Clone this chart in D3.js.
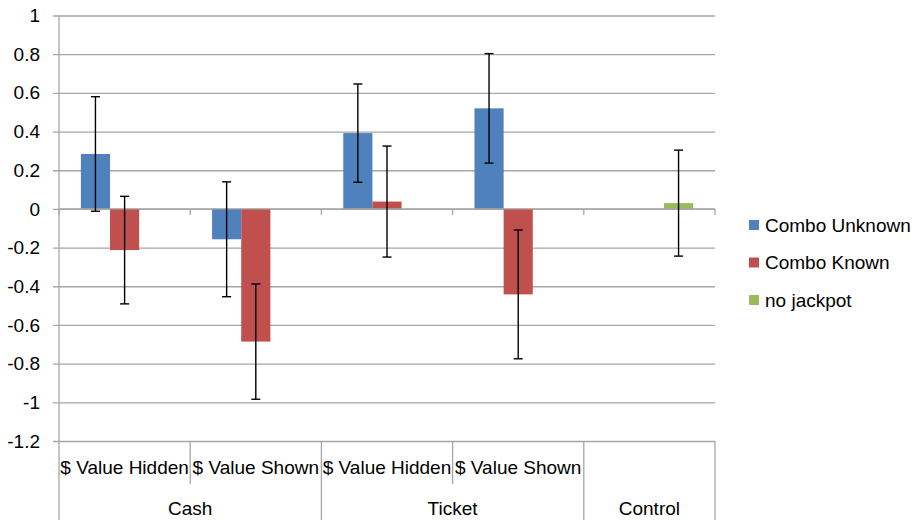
<!DOCTYPE html>
<html>
<head>
<meta charset="utf-8">
<script src="https://cdn.jsdelivr.net/npm/d3@7"></script>
<style>
  html, body { margin: 0; padding: 0; background: #ffffff; }
  svg { display: block; font-family: "Liberation Sans", Arial, sans-serif; }
</style>
</head>
<body>
<svg id="chart" width="921" height="520"></svg>
<script>
// ---- data ----
const leafLabels  = ["$ Value Hidden", "$ Value Shown", "$ Value Hidden", "$ Value Shown", ""];
const groupLabels = ["Cash", "Ticket", "Control"];
const groupSpans  = [2, 2, 1];
const seriesNames = ["Combo Unknown", "Combo Known", "no jackpot"];
const seriesColors = ["#4F81BD", "#C0504D", "#9BBB59"];
const comboUnknown    = [0.284, -0.157, 0.392, 0.520, null];
const comboUnknownErr = [0.296, 0.297, 0.254, 0.283, null];
const comboKnown      = [-0.213, -0.686, 0.038, -0.442, null];
const comboKnownErr   = [0.278, 0.298, 0.287, 0.333, null];
const noJackpot       = [null, null, null, null, 0.030];
const noJackpotErr    = [null, null, null, null, 0.274];
const yTicks = [1, 0.8, 0.6, 0.4, 0.2, 0, -0.2, -0.4, -0.6, -0.8, -1, -1.2];

const seriesValues = [comboUnknown, comboKnown, noJackpot];
const seriesErrors = [comboUnknownErr, comboKnownErr, noJackpotErr];

// ---- layout ----
(function () {
const svg = d3.select("#chart");
const pLeft = 59, pRight = 715, pTop = 15.5, pBottom = 441;
const gridColor = "#a6a6a6";
const fs = "19px";

const y = d3.scaleLinear().domain([-1.2, 1]).range([pBottom, pTop]);
const x = d3.scaleBand().domain(d3.range(leafLabels.length)).range([pLeft, pRight]).padding(0);
const bw = x.bandwidth();
const barW = bw / 4.5; // Excel gap width 150%
const xs = d3.scaleBand().domain(d3.range(seriesNames.length))
  .range([(bw - barW * 3) / 2, (bw + barW * 3) / 2]).padding(0);

// gridlines with left ticks
const yAxis = d3.axisLeft(y).tickValues(yTicks).tickSize(-(pRight - pLeft)).tickPadding(19)
  .tickFormat(d => String(d));
const gy = svg.append("g").attr("transform", `translate(${pLeft},0)`).call(yAxis);
gy.select(".domain").remove();
gy.selectAll(".tick line").attr("stroke", gridColor).attr("stroke-width", 1.3)
  .attr("x1", -6).attr("x2", pRight - pLeft);
gy.selectAll(".tick text").attr("fill", "#000").style("font-size", fs)
  .style("font-family", "'Liberation Sans', Arial, sans-serif");

// bars
seriesValues.forEach((vals, si) => {
  svg.append("g").selectAll("rect")
    .data(vals.map((v, i) => ({ v, i })).filter(d => d.v !== null))
    .join("rect")
    .attr("x", d => x(d.i) + xs(si))
    .attr("width", xs.bandwidth())
    .attr("y", d => y(Math.max(0, d.v)))
    .attr("height", d => Math.abs(y(d.v) - y(0)))
    .attr("fill", seriesColors[si]);
});

// zero axis line with ticks at category boundaries
svg.append("line").attr("x1", pLeft).attr("x2", pRight).attr("y1", y(0)).attr("y2", y(0))
  .attr("stroke", gridColor).attr("stroke-width", 1.3);
d3.range(leafLabels.length + 1).forEach(i => {
  const xx = pLeft + i * bw;
  svg.append("line").attr("x1", xx).attr("x2", xx).attr("y1", y(0)).attr("y2", y(0) + 6)
    .attr("stroke", gridColor).attr("stroke-width", 1.3);
});

// error bars
seriesValues.forEach((vals, si) => {
  const g = svg.append("g").attr("stroke", "#000").attr("stroke-width", 1.4);
  vals.forEach((v, i) => {
    if (v === null) return;
    const e = seriesErrors[si][i];
    const cx = x(i) + xs(si) + xs.bandwidth() / 2;
    g.append("line").attr("x1", cx).attr("x2", cx).attr("y1", y(v + e)).attr("y2", y(v - e));
    [v + e, v - e].forEach(t => {
      g.append("line").attr("x1", cx - 4.5).attr("x2", cx + 4.5).attr("y1", y(t)).attr("y2", y(t));
    });
  });
});

// vertical value axis line
svg.append("line").attr("x1", pLeft).attr("x2", pLeft).attr("y1", pTop).attr("y2", 520)
  .attr("stroke", gridColor).attr("stroke-width", 1.3);

// category axis (multi-level)
const cat = svg.append("g");
leafLabels.forEach((lab, i) => {
  cat.append("text").attr("x", x(i) + bw / 2).attr("y", 467).attr("dy", "0.35em")
    .attr("text-anchor", "middle").style("font-size", fs).text(lab);
});
let pos = 0;
groupLabels.forEach((g, gi) => {
  const x0 = x(pos), x1 = x(pos) + bw * groupSpans[gi];
  cat.append("text").attr("x", (x0 + x1) / 2).attr("y", 508).attr("dy", "0.35em")
    .attr("text-anchor", "middle").style("font-size", fs).text(g);
  for (let k = 1; k < groupSpans[gi]; k++) {
    const xx = x(pos + k);
    cat.append("line").attr("x1", xx).attr("x2", xx).attr("y1", pBottom).attr("y2", 484)
      .attr("stroke", gridColor).attr("stroke-width", 1.3);
  }
  cat.append("line").attr("x1", x1).attr("x2", x1).attr("y1", pBottom).attr("y2", 520)
    .attr("stroke", gridColor).attr("stroke-width", 1.3);
  pos += groupSpans[gi];
});

// legend
const legend = svg.append("g");
seriesNames.forEach((n, i) => {
  const ly = 225 + i * 37.5;
  legend.append("rect").attr("x", 749).attr("y", ly - 5).attr("width", 10).attr("height", 10)
    .attr("fill", seriesColors[i]);
  legend.append("text").attr("x", 765).attr("y", ly).attr("dy", "0.35em")
    .style("font-size", fs).text(n);
});
})();
</script>
</body>
</html>
